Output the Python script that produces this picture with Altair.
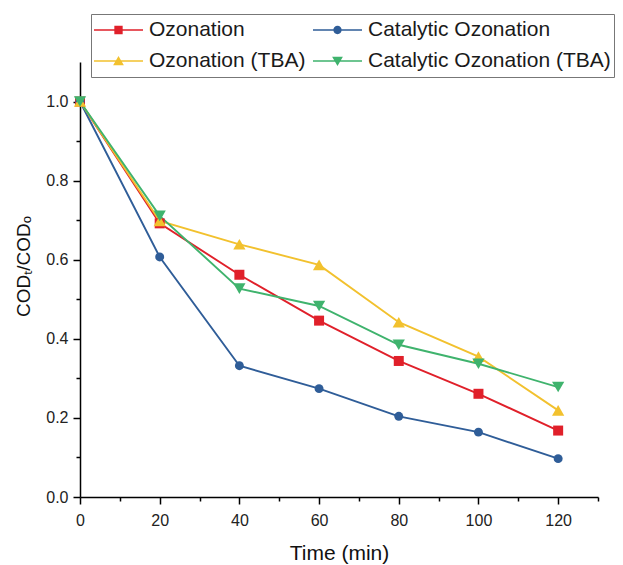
import altair as alt
import pandas as pd

time_min = [0, 20, 40, 60, 80, 100, 120]
ozonation = [1.0, 0.692, 0.562, 0.446, 0.344, 0.261, 0.168]
catalytic = [1.0, 0.607, 0.332, 0.274, 0.204, 0.164, 0.097]
ozonation_tba = [1.0, 0.698, 0.639, 0.587, 0.442, 0.355, 0.219]
catalytic_tba = [1.0, 0.711, 0.527, 0.483, 0.385, 0.337, 0.278]

series_names = ["Ozonation", "Catalytic Ozonation", "Ozonation (TBA)", "Catalytic Ozonation (TBA)"]
series_values = [ozonation, catalytic, ozonation_tba, catalytic_tba]
colors = ["#e0202a", "#2f5d98", "#f2c12e", "#3fb36d"]
point_shapes = ["square", "circle", "triangle-up", "triangle-down"]

x_ticks = list(range(0, 140, 10))
y_ticks = [round(i * 0.1, 1) for i in range(0, 11)]

rows = []
for name, vals in zip(series_names, series_values):
    for t, v in zip(time_min, vals):
        rows.append({"time": t, "value": v, "series": name})
df = pd.DataFrame(rows)

FONT = "Liberation Sans"

LINE = "M-1,-0.035H1V0.035H-1Z "
legend_paths = [
    LINE + "M-0.17,-0.17H0.17V0.17H-0.17Z",
    LINE + "M-0.17,0A0.17,0.17 0 1,1 0.17,0A0.17,0.17 0 1,1 -0.17,0Z",
    LINE + "M0,-0.2L0.22,0.17L-0.22,0.17Z",
    LINE + "M-0.22,-0.17L0.22,-0.17L0,0.2Z",
]

x_enc = alt.X(
    "time:Q",
    scale=alt.Scale(domain=[0, 130], nice=False, zero=False),
    axis=alt.Axis(
        title="Time (min)",
        values=x_ticks,
        labelExpr="datum.value % 20 === 0 ? datum.label : ''",
        tickSize={"condition": {"test": "datum.value % 20 !== 0", "value": 4}, "value": 7},
        labelPadding=8,
        labelFlush=False,
        titleY=45,
        titleBaseline="top",
        titleFontSize=21,
    ),
)
y_enc = alt.Y(
    "value:Q",
    scale=alt.Scale(domain=[0, 1.1], nice=False),
    axis=alt.Axis(
        title="CODₜ/CODₒ",
        values=y_ticks,
        format=".1f",
        labelExpr="round(datum.value * 10) % 2 === 0 ? datum.label : ''",
        tickSize={"condition": {"test": "round(datum.value * 10) % 2 !== 0", "value": 4}, "value": 7},
        labelPadding=5,
        labelFlush=False,
        titleX=-51,
        titleY=204,
        titleAlign="center",
        titleBaseline="alphabetic",
        titleFontSize=19,
    ),
)
color_scale = alt.Scale(domain=series_names, range=colors)


def make_legend():
    return alt.Legend(
        title=None,
        orient="none",
        legendX=11,
        legendY=-48,
        direction="horizontal",
        columns=2,
        columnPadding=7,
        rowPadding=5,
        padding=3,
        clipHeight=26,
        symbolSize=2401,
        symbolStrokeWidth=0,
        symbolOpacity=1,
        labelOffset=6,
        labelFont=FONT,
        labelFontSize=21,
        labelColor="#1a1a1a",
        labelLimit=0,
        strokeColor="#777777",
        fillColor="white",
    )


lines = alt.Chart(df).mark_line(strokeWidth=1.9).encode(
    x=x_enc,
    y=y_enc,
    color=alt.Color("series:N", scale=color_scale, legend=None),
    order=alt.Order("time:Q"),
)

points = (
    alt.Chart(df)
    .transform_calculate(
        msize="indexof(['Ozonation (TBA)', 'Catalytic Ozonation (TBA)'], datum.series) >= 0 ? 150 : "
        "(datum.series === 'Catalytic Ozonation' ? 80 : 100)"
    )
    .mark_point(filled=True, opacity=1)
    .encode(
        x=x_enc,
        y=y_enc,
        color=alt.Color("series:N", scale=color_scale, legend=None),
        shape=alt.Shape("series:N", scale=alt.Scale(domain=series_names, range=point_shapes), legend=None),
        size=alt.Size("msize:Q", scale=None, legend=None),
    )
)

legend_layer = alt.Chart(df).transform_filter("false").mark_point(filled=True, opacity=1).encode(
    x=x_enc,
    y=y_enc,
    color=alt.Color("series:N", scale=color_scale, legend=make_legend()),
    shape=alt.Shape(
        "series:N",
        scale=alt.Scale(domain=series_names, range=legend_paths),
        legend=make_legend(),
    ),
)

chart = (
    alt.layer(lines, points, legend_layer)
    .resolve_scale(color="independent", shape="independent")
    .properties(
        width=518,
        height=435,
        autosize=alt.AutoSizeParams(type="none"),
        padding={"left": 80, "top": 62, "right": 25, "bottom": 68},
        background="white",
    )
    .configure_view(stroke=None)
    .configure_axis(
        grid=False,
        domainColor="black",
        domainWidth=1.5,
        tickColor="black",
        tickWidth=1.5,
        labelFont=FONT,
        labelFontSize=16,
        labelColor="#222222",
        titleFont=FONT,
        titleFontWeight="normal",
        titleColor="#111111",
    )
)

chart.save("out.html", embed_options={"renderer": "svg", "actions": False})
